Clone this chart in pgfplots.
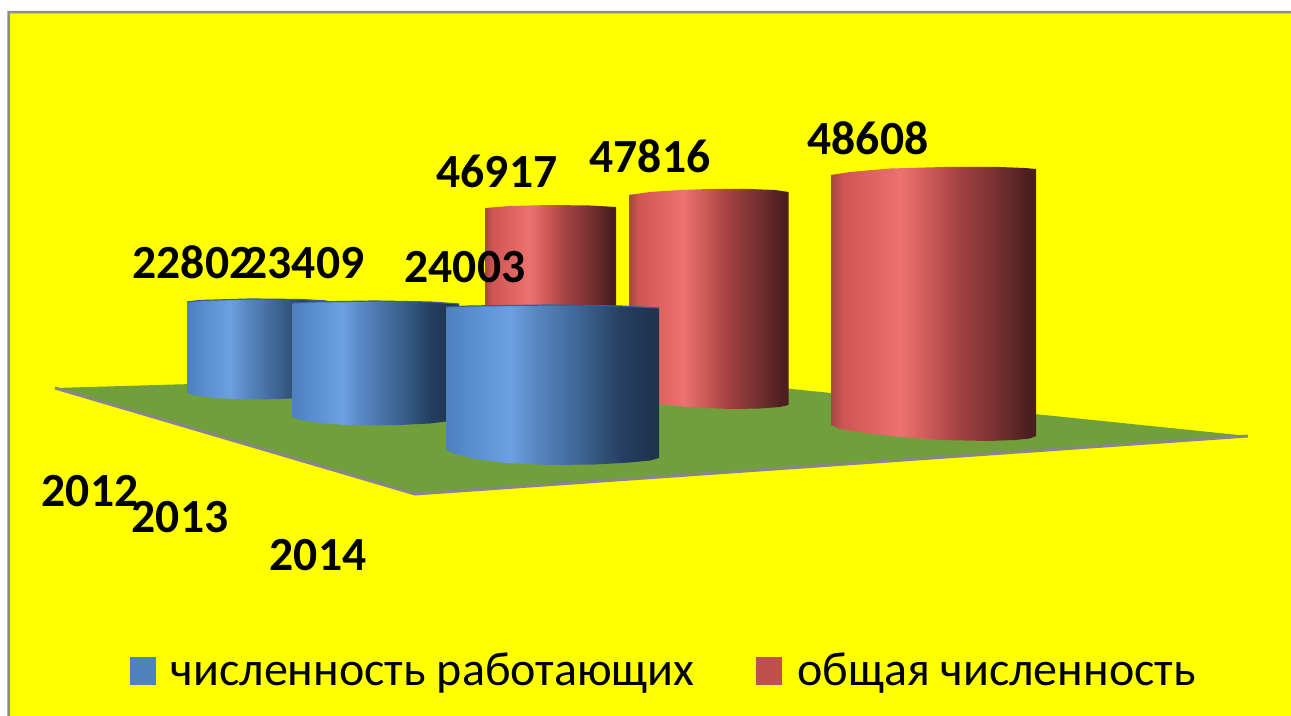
\documentclass[border=0pt]{standalone}
\usepackage{pgfplots}
\pgfplotsset{compat=1.18}
\usepackage{fontspec}
\setmainfont{Carlito}
\definecolor{pureyellow}{RGB}{255,255,0}
\definecolor{framegray}{HTML}{8C8C8C}
\definecolor{floorgreen}{HTML}{719F3B}
\definecolor{floorline}{HTML}{86868C}
\definecolor{legblue}{HTML}{4F81BD}
\definecolor{legred}{HTML}{C0504D}
\definecolor{bluecap}{HTML}{34608F}
% stops lie between 25bp and 75bp: the path's box fills that middle part
\pgfdeclarehorizontalshading{bluecyl}{100bp}{
 color(0bp)=(rgb,255:red,78;green,128;blue,190);
 color(25bp)=(rgb,255:red,78;green,128;blue,190);
 color(29bp)=(rgb,255:red,85;green,137;blue,203);
 color(40bp)=(rgb,255:red,108;green,160;blue,226);
 color(46bp)=(rgb,255:red,88;green,135;blue,193);
 color(56bp)=(rgb,255:red,62;green,102;blue,150);
 color(66bp)=(rgb,255:red,38;green,64;blue,97);
 color(73bp)=(rgb,255:red,31;green,52;blue,79);
 color(75bp)=(rgb,255:red,31;green,52;blue,79);
 color(100bp)=(rgb,255:red,31;green,52;blue,79)}
\pgfdeclarehorizontalshading{redcyl}{100bp}{
 color(0bp)=(rgb,255:red,165;green,70;blue,68);
 color(25bp)=(rgb,255:red,165;green,70;blue,68);
 color(28bp)=(rgb,255:red,208;green,86;blue,84);
 color(42bp)=(rgb,255:red,236;green,114;blue,112);
 color(47bp)=(rgb,255:red,214;green,96;blue,94);
 color(56bp)=(rgb,255:red,163;green,66;blue,66);
 color(67bp)=(rgb,255:red,110;green,45;blue,45);
 color(73bp)=(rgb,255:red,76;green,30;blue,30);
 color(75bp)=(rgb,255:red,76;green,30;blue,30);
 color(100bp)=(rgb,255:red,76;green,30;blue,30)}
\begin{document}
\begin{tikzpicture}
\begin{axis}[
  scale only axis, width=645.5pt, height=358pt,
  xmin=0, xmax=1291, ymin=0, ymax=716, y dir=reverse,
  axis lines=none, clip=false,
  every axis plot/.append style={forget plot},
  nodes near coords style={anchor=center, font=\fontsize{23.8}{28}\selectfont\bfseries, text=black},
  legend cell align=left,
  legend style={at={(axis cs:130,671)}, anchor=west, draw=none, fill=none,
    inner sep=0pt, outer sep=0pt, nodes={inner sep=0pt, outer sep=0pt},
    font=\fontsize{24}{28}\selectfont,
    /tikz/column 1/.style={column sep=7.5pt},
    /tikz/column 2/.style={column sep=31pt},
    /tikz/column 3/.style={column sep=7.5pt}},
  legend columns=2,
]
% page and frame
\addplot[draw=none, fill=white] coordinates {(0,0) (1291,0) (1291,716) (0,716) (0,0)};
\addplot[draw=none, fill=framegray] coordinates {(7.3,11) (1291,11) (1291,716) (7.3,716) (7.3,11)};
\addplot[draw=none, fill=pureyellow] coordinates {(10,13.3) (1291,13.3) (1291,716) (10,716) (10,13.3)};
% floor
\addplot[draw=none, fill=floorgreen] coordinates {(55,388) (622,371.5) (1248,436) (415,494) (55,388)};
\addplot[floorline, line width=1.5pt] coordinates {(55,388) (415,494) (1248,436)};
% red cylinders (back row)
\addplot[draw=none, shading=redcyl] coordinates {(485,208) (510,206) (550,205) (590,205.5) (616,207)
  (616,375) (590,380) (550,382) (510,380) (485,375) (485,208)};
\addplot[draw=none, shading=redcyl] coordinates {(629,195) (650,192) (680,190) (710,189) (750,189) (775,190) (788.5,192)
  (788.5,405) (780,407) (760,408.5) (732,409) (700,408) (665,405) (640,401) (629,398) (629,195)};
\addplot[draw=none, shading=redcyl] coordinates {(831,175) (850,172) (890,168.5) (944,167) (1000,167) (1025,168) (1036,169)
  (1036,436) (1030,438.5) (1015,440) (988,441) (940,440) (900,437) (865,433) (840,429) (831,425) (831,175)};
% blue cylinders (front row)
\addplot[draw=none, shading=bluecyl] coordinates {(187,302) (200,300.5) (250,299) (300,299.5) (327,301) (330,302)
  (330,393) (325,395.5) (310,397.5) (280,399) (255,399.5) (235,399) (215,398) (195,395.5) (187,393) (187,302)};
\addplot[bluecap, line width=0.6pt] coordinates {(187,302) (200,300.5) (250,299) (300,299.5) (327,301)};
\addplot[draw=none, shading=bluecyl] coordinates {(292,303) (310,302) (375,301) (430,302) (459,304)
  (459,418) (450,421) (430,423.5) (400,425) (370,425.5) (345,425) (320,423) (300,420) (292,417) (292,303)};
\addplot[bluecap, line width=0.6pt] coordinates {(292,303) (310,302) (375,301) (430,302) (459,304)};
\addplot[draw=none, shading=bluecyl] coordinates {(446,307) (470,306) (550,305) (620,306) (659,308)
  (659,458) (650,460.5) (630,462.5) (595,464.5) (549,465) (505,463) (475,459) (455,454) (446,450) (446,307)};
\addplot[bluecap, line width=0.6pt] coordinates {(446,307) (470,306) (550,305) (620,306) (659,308)};
% data labels
\addplot[draw=none, nodes near coords={\pgfplotspointmeta}, point meta=explicit symbolic]
  coordinates {(193,262) [22802] (304,263) [23409] (465,267) [24003]};
\addplot[draw=none, nodes near coords={\pgfplotspointmeta}, point meta=explicit symbolic]
  coordinates {(497,171) [46917] (650,156) [47816] (868,138) [48608]};
% category labels
\addplot[draw=none, nodes near coords={\pgfplotspointmeta}, point meta=explicit symbolic]
  coordinates {(90,491) [2012] (180,517) [2013] (318,555) [2014]};
% legend
\addlegendimage{legend image code/.code={\fill[legblue] (0pt,-6.75pt) rectangle (12.5pt,6.75pt);}}
\addlegendentry{численность работающих}
\addlegendimage{legend image code/.code={\fill[legred] (0pt,-6.75pt) rectangle (12.5pt,6.75pt);}}
\addlegendentry{общая численность}
\end{axis}
\end{tikzpicture}
\end{document}
